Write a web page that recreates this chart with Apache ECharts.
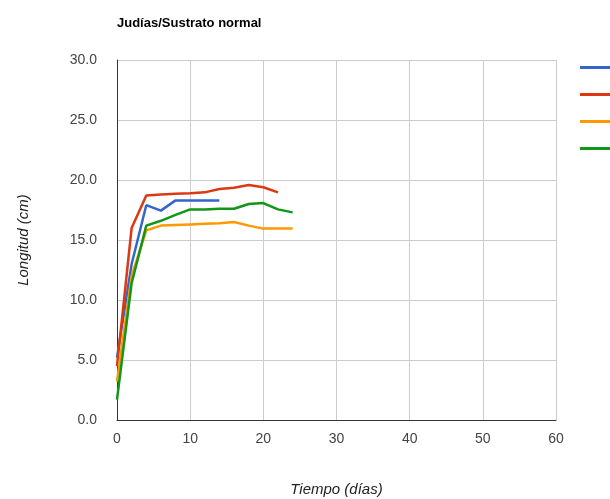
<!DOCTYPE html>
<html>
<head>
<meta charset="utf-8">
<script src="https://cdn.jsdelivr.net/npm/echarts@6/dist/echarts.min.js"></script>
<style>
    html, body { margin: 0; padding: 0; background: #fff; }
    #chart { width: 610px; height: 499px; }
</style>
</head>
<body>
<div id="chart"></div>
<script>
// dias de medida
const dias = [0, 2, 4, 6, 8, 10, 12, 14, 16, 18, 20, 22, 24];
const nombres = ['Planta 1', 'Planta 2', 'Planta 3', 'Planta 4'];
const planta1 = [5.2, 13.0, 17.9, 17.45, 18.3, 18.3, 18.3, 18.3];
const planta2 = [4.5, 16.0, 18.7, 18.8, 18.85, 18.9, 18.97, 19.25, 19.36, 19.58, 19.4, 18.97];
const planta3 = [3.2, 12.0, 15.8, 16.2, 16.25, 16.3, 16.35, 16.4, 16.5, 16.2, 15.95, 15.95, 15.95];
const planta4 = [1.7, 11.4, 16.2, 16.6, 17.1, 17.55, 17.55, 17.6, 17.6, 18.0, 18.08, 17.55, 17.3];
const colores = ['#3366cc', '#dc3912', '#ff9900', '#109618'];

const chart = echarts.init(document.getElementById('chart'));

function puntos(valores) {
    return valores.map((v, i) => [dias[i], v]);
}

const series = [planta1, planta2, planta3, planta4].map((valores, i) => ({
    name: nombres[i],
    type: 'line',
    data: puntos(valores),
    symbol: 'none',
    lineStyle: { width: 2.5, color: colores[i] },
    itemStyle: { color: colores[i] }
}));

chart.setOption({
    animation: false,
    backgroundColor: '#fff',
    title: {
        text: 'Judías/Sustrato normal',
        left: 112,
        top: 12,
        textStyle: {
            fontFamily: 'Liberation Sans, Arial',
            fontSize: 13,
            fontWeight: 'bold',
            color: '#000'
        }
    },
    legend: {
        orient: 'vertical',
        left: 575,
        top: 56,
        icon: 'rect',
        itemWidth: 36,
        itemHeight: 3,
        itemGap: 14,
        data: nombres,
        textStyle: { fontSize: 13, color: '#222' }
    },
    grid: {
        left: 117,
        top: 60,
        right: 54,
        bottom: 79,
        containLabel: false,
        outerBoundsMode: 'none'
    },
    xAxis: {
        type: 'value',
        min: 0,
        max: 60,
        interval: 10,
        name: 'Tiempo (días)',
        nameLocation: 'middle',
        nameGap: 62,
        nameTextStyle: {
            fontFamily: 'Liberation Sans, Arial',
            fontSize: 15,
            fontStyle: 'italic',
            color: '#222'
        },
        axisLine: { lineStyle: { color: '#333', width: 1 } },
        axisTick: { show: false },
        axisLabel: {
            margin: 12,
            fontFamily: 'Liberation Sans, Arial',
            fontSize: 14,
            color: '#444'
        },
        splitLine: { lineStyle: { color: '#ccc' } }
    },
    yAxis: {
        type: 'value',
        min: 0,
        max: 30,
        interval: 5,
        name: 'Longitud (cm)',
        nameLocation: 'middle',
        nameGap: 86,
        nameTextStyle: {
            fontFamily: 'Liberation Sans, Arial',
            fontSize: 15,
            fontStyle: 'italic',
            color: '#222'
        },
        axisLine: { show: true, lineStyle: { color: '#333', width: 1 } },
        axisTick: { show: false },
        axisLabel: {
            margin: 20,
            formatter: v => v.toFixed(1),
            fontFamily: 'Liberation Sans, Arial',
            fontSize: 14,
            color: '#444'
        },
        splitLine: { lineStyle: { color: '#ccc' } }
    },
    series: series
});
</script>
</body>
</html>
